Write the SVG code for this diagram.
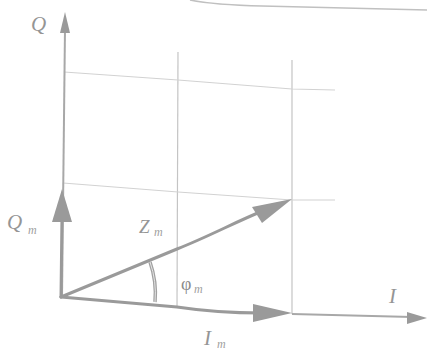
<svg xmlns="http://www.w3.org/2000/svg" width="427" height="353" viewBox="0 0 427 353">
<defs>
<style>
.grid{stroke:#c4c4c4;stroke-width:1.2;fill:none}
.hgrid{stroke:#d2d2d2;stroke-width:1.2;fill:none}
.vec{stroke:#9a9a9a;stroke-width:3;fill:none;stroke-linecap:round}
.axis{stroke:#a8a8a8;stroke-width:2;fill:none}
.head{fill:#9a9a9a}
.lbl{font-family:"Liberation Serif","DejaVu Serif",serif;font-style:italic;fill:#959595}
.sub{font-family:"Liberation Serif","DejaVu Serif",serif;font-style:italic;fill:#a0a0a0;font-size:12px}
</style>
</defs>
<rect width="427" height="353" fill="#ffffff"/>
<path d="M190,0 C205,3 222,5 262,6 L427,10" stroke="#c0c0c0" stroke-width="1.5" fill="none"/>
<g id="grid">
<path class="grid" d="M178,52 L177,306"/>
<path class="grid" d="M292,60 L292,314"/>
<path class="hgrid" d="M64,72 L178,80 L292,89 L335,90"/>
<path class="hgrid" d="M63,183 L178,192 L292,200 L335,200"/>
</g>
<g id="connectors">
<g id="axis-Q">
<path class="axis" d="M62,297 L65,28"/>
<polygon class="head" points="65,12 60,33 70,33"/>
</g>
<g id="axis-I">
<path class="axis" d="M292,314 L412,317"/>
<polygon class="head" points="427,318 407,312 407,324"/>
</g>
<g id="vec-Qm">
<path class="vec" d="M61,297 L62,215"/>
<polygon class="head" points="62,189 52,222 72,222"/>
</g>
<g id="vec-Zm">
<path class="vec" d="M61,297 L177,249 C210,236 235,222 265,210"/>
<polygon class="head" points="292,199 252,207 262,223"/>
</g>
<g id="vec-Im">
<path class="vec" d="M61,297 L177,307 C210,312 235,313 262,313"/>
<polygon class="head" points="292,313 253,304 253,322"/>
</g>
<path id="arc-phi" d="M150,262 A95,95 0 0 1 155,302" stroke="#a0a0a0" stroke-width="3.5" fill="none"/>
<path d="M150,262 A95,95 0 0 1 155,302" stroke="#e6e6e6" stroke-width="1" fill="none"/>
</g>
<g id="label-Q"><text class="lbl" x="31" y="31" font-size="21">Q</text></g>
<g id="label-Qm"><text class="lbl" x="7" y="229" font-size="21">Q</text><text class="sub" x="28" y="234">m</text></g>
<g id="label-Zm"><text class="lbl" x="139" y="233" font-size="19">Z</text><text class="sub" x="154" y="236">m</text></g>
<g id="label-phi"><text x="181" y="290" font-size="18" font-family="Liberation Serif, DejaVu Serif, serif" fill="#8a8a8a">φ</text><text class="sub" x="194" y="293">m</text></g>
<g id="label-I"><text class="lbl" x="389" y="303" font-size="21">I</text></g>
<g id="label-Im"><text class="lbl" x="204" y="345" font-size="21">I</text><text class="sub" x="217" y="348">m</text></g>
</svg>
